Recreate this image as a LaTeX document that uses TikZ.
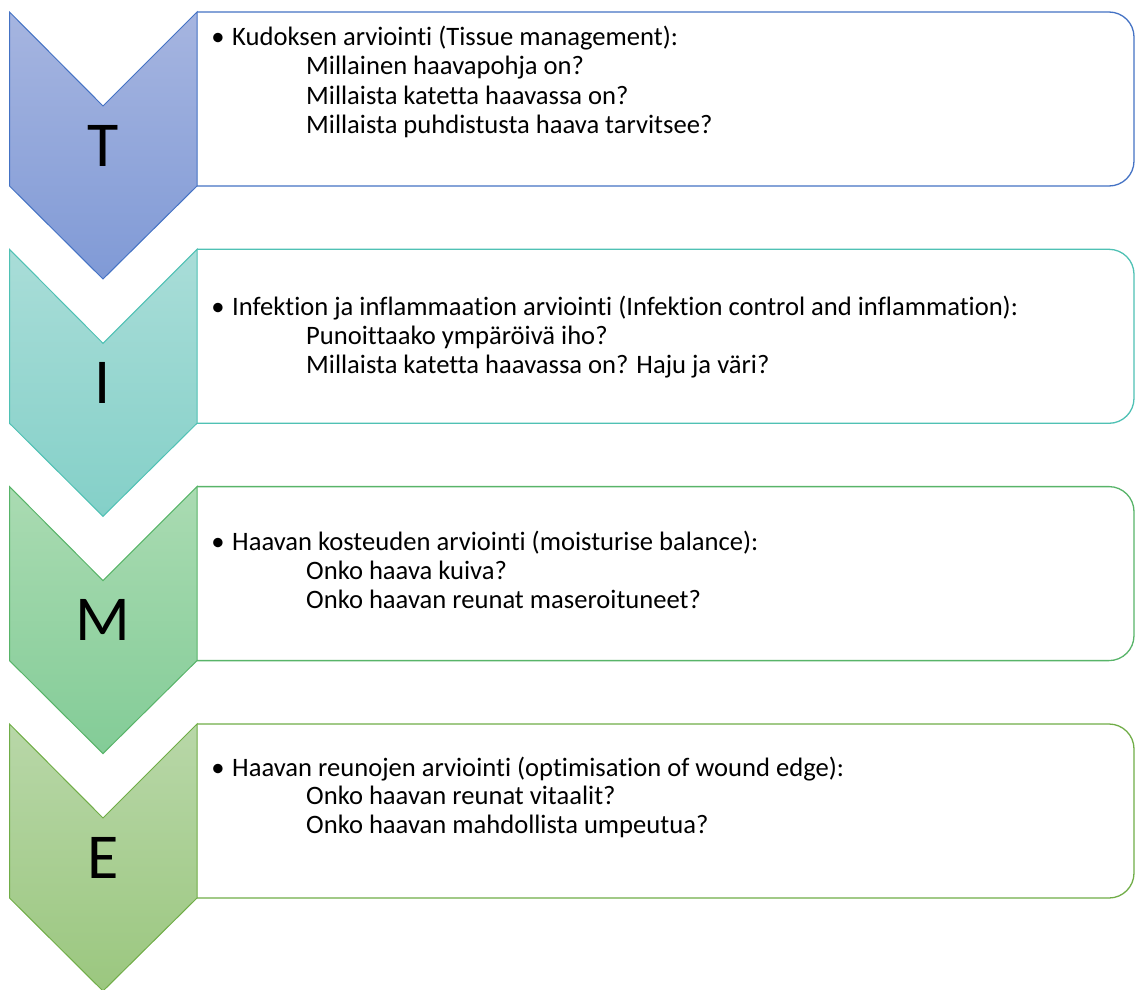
\documentclass[tikz,border=0pt]{standalone}
\usepackage{fontspec}
\setmainfont{Carlito}[RawFeature={-liga;-dlig}]
\definecolor{strT}{HTML}{4472C4}
\definecolor{topT}{HTML}{A6B5E0}
\definecolor{botT}{HTML}{809AD6}
\definecolor{strI}{HTML}{4FC1B4}
\definecolor{topI}{HTML}{A9DDD8}
\definecolor{botI}{HTML}{84D0C8}
\definecolor{strM}{HTML}{58B469}
\definecolor{topM}{HTML}{AADBB2}
\definecolor{botM}{HTML}{83CC97}
\definecolor{strE}{HTML}{70AD47}
\definecolor{topE}{HTML}{B8D7A8}
\definecolor{botE}{HTML}{9BC77F}
\tikzset{
  letter/.style={font=\fontsize{64}{64}\selectfont, inner sep=0pt, anchor=center},
  txt/.style={font=\fontsize{26.6}{29}\selectfont, inner sep=0pt, anchor=base west, text=black},
  bul/.style={font=\fontsize{26.6}{29}\selectfont, inner sep=0pt, anchor=base, text=black},
  chev/.style={line width=1pt, line join=miter},
  tbox/.style={line width=1.3pt, fill=white, rounded corners=25pt}
}
\newcommand{\rowshape}[4]{% y0, stroke, top, bottom
  \draw[tbox, draw=#2] (197,#1) -- (1134,#1) -- (1134,#1+174) -- (197,#1+174);
  \path[chev, draw=#2, top color=#3, bottom color=#4]
    (9.5,#1) -- (103,#1+94) -- (197,#1) -- (197,#1+174) -- (103,#1+267) -- (9.5,#1+174) -- cycle;
}
\begin{document}
\begin{tikzpicture}[x=1pt, y=-1pt]
\useasboundingbox (0,0) rectangle (1136,990);
\rowshape{12}{strT}{topT}{botT}
\rowshape{249.3}{strI}{topI}{botI}
\rowshape{486.6}{strM}{topM}{botM}
\rowshape{724}{strE}{topE}{botE}

\node[letter] (lT) at (103,145.5) {T};
\node[letter] (lI) at (103,382.8) {I};
\node[letter] (lM) at (103,620) {M};
\node[letter] (lE) at (103,857.5) {E};

% T
\node[bul] (bT) at (218,46) {•};
\node[txt] (t1) at (232,46) {Kudoksen arviointi (Tissue management):};
\node[txt] (t2) at (306,75) {Millainen haavapohja on?};
\node[txt] (t3) at (306,104) {Millaista katetta haavassa on?};
\node[txt] (t4) at (306,133) {Millaista puhdistusta haava tarvitsee?};
% I
\node[bul] (bI) at (218,315) {•};
\node[txt] (i1) at (232,315) {Infektion ja inflammaation arviointi (Infektion control and inflammation):};
\node[txt] (i2) at (306,344) {Punoittaako ympäröivä iho?};
\node[txt] (i3) at (306,373) {Millaista katetta haavassa on? Haju ja väri?};
% M
\node[bul] (bM) at (218,550) {•};
\node[txt] (m1) at (232,550) {Haavan kosteuden arviointi (moisturise balance):};
\node[txt] (m2) at (306,579) {Onko haava kuiva?};
\node[txt] (m3) at (306,608) {Onko haavan reunat maseroituneet?};
% E
\node[bul] (bE) at (218,776) {•};
\node[txt] (e1) at (232,776) {Haavan reunojen arviointi (optimisation of wound edge):};
\node[txt] (e2) at (306,804) {Onko haavan reunat vitaalit?};
\node[txt] (e3) at (306,833) {Onko haavan mahdollista umpeutua?};
\end{tikzpicture}
\end{document}
